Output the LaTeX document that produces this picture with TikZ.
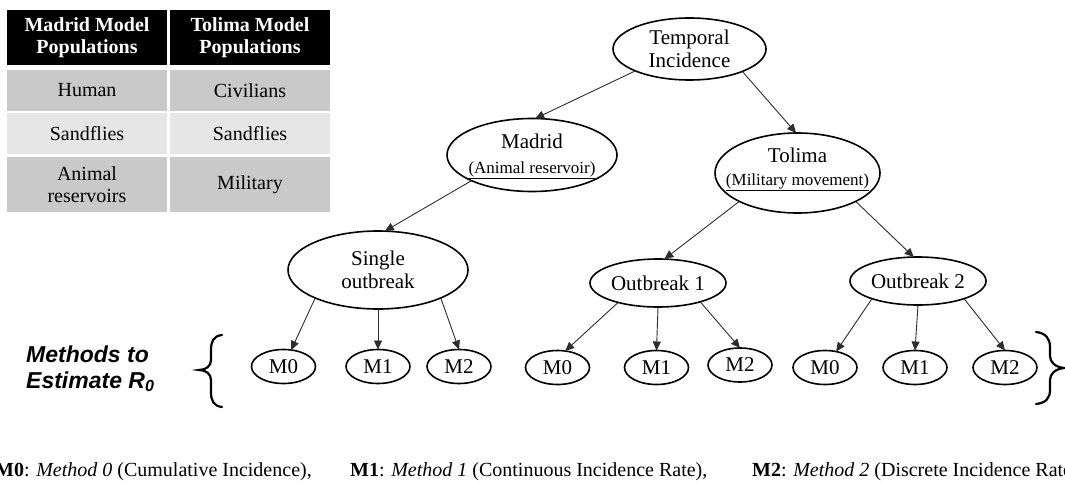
\documentclass[tikz,border=0pt]{standalone}
\usepackage{fontspec}
\setmainfont{Liberation Serif}
\setsansfont{Liberation Sans}
\usetikzlibrary{arrows.meta,shapes.geometric}

\definecolor{rowdark}{RGB}{201,201,201}
\definecolor{rowlight}{RGB}{230,230,230}
\definecolor{linkgray}{RGB}{45,45,45}

\begin{document}
\begin{tikzpicture}[x=1pt,y=-1pt,
  cell/.style={rectangle, inner sep=0pt, outer sep=0pt, anchor=north west,
    minimum width=160pt, align=center, font=\fontsize{20}{22}\selectfont},
  head/.style={cell, fill=black, text=white, minimum height=55pt,
    font=\bfseries\fontsize{20}{21.5}\selectfont},
  ell/.style={ellipse, draw=black, line width=1.6pt, inner sep=0pt, outer sep=0pt,
    align=center, font=\fontsize{21}{23}\selectfont},
  meth/.style={ell, minimum width=64pt, minimum height=34pt, font=\fontsize{21}{21}\selectfont},
  ttl/.style={inner sep=0pt, anchor=base, font=\fontsize{21}{23}\selectfont},
  sub/.style={inner sep=0pt, anchor=base, font=\fontsize{17}{19}\selectfont},
  side/.style={inner sep=0pt, anchor=base west, font=\sffamily\bfseries\itshape\fontsize{23}{26}\selectfont},
  legendtext/.style={inner sep=0pt, anchor=base west, font=\fontsize{20}{22}\selectfont},
  link/.style={draw=linkgray, line width=0.9pt, -{Triangle[length=9pt,width=8pt]}},
  brace/.style={draw=black, line width=2.2pt, line cap=round}
]
\useasboundingbox (0,0) rectangle (1065,484);
\fill[white] (0,0) rectangle (1065,484);
\clip (0,0) rectangle (1065,484);

% population table
\node[head] (h1) at (7,10) {Madrid Model\\Populations};
\node[head] (h2) at (170,10) {Tolima Model\\Populations};
\node[cell, fill=rowdark, minimum height=41pt] (r1a) at (7,70) {Human};
\node[cell, fill=rowdark, minimum height=41pt] (r1b) at (170,70) {Civilians};
\node[cell, fill=rowlight, minimum height=41pt] (r2a) at (7,113) {Sandflies};
\node[cell, fill=rowlight, minimum height=41pt] (r2b) at (170,113) {Sandflies};
\node[cell, fill=rowdark, minimum height=55pt] (r3a) at (7,157) {Animal\\reservoirs};
\node[cell, fill=rowdark, minimum height=55pt] (r3b) at (170,157) {Military};

% tree of models
\node[ell, minimum width=153pt, minimum height=62pt] (temp) at (689.5,49) {Temporal\\Incidence};
\node[ell, minimum width=170pt, minimum height=73pt] (mad) at (532,155) {};
\node[ttl] (madt) at (532,148) {Madrid};
\node[sub] (mads) at (532,173) {\underline{(Animal reservoir)}};
\node[ell, minimum width=165pt, minimum height=80pt] (tol) at (797.5,173) {};
\node[ttl] (tolt) at (797.5,162) {Tolima};
\node[sub] (tols) at (797.5,185) {\underline{(Military movement)}};
\node[ell, minimum width=180pt, minimum height=78pt] (sing) at (378,270) {Single\\outbreak};
\node[ell, minimum width=136pt, minimum height=48pt] (ob1) at (658,283) {Outbreak 1};
\node[ell, minimum width=136pt, minimum height=48pt] (ob2) at (918,281) {Outbreak 2};

% estimation methods
\node[meth] (a0) at (283.5,366.5) {M0};
\node[meth] (a1) at (378,366.5) {M1};
\node[meth] (a2) at (459,366.5) {M2};
\node[meth] (b0) at (557.5,367.5) {M0};
\node[meth] (b1) at (656.5,367.5) {M1};
\node[meth] (b2) at (740,365) {M2};
\node[meth] (c0) at (825,367.5) {M0};
\node[meth] (c1) at (915,367.5) {M1};
\node[meth] (c2) at (1005,367.5) {M2};

% connectors
\draw[link] (temp.202.5) -- (mad.85);
\draw[link] (temp.337.5) -- (tol.92);
\draw[link] (mad.203.5) -- (sing.80);
\draw[link] (tol.206) -- (ob1.75);
\draw[link] (tol.334) -- (ob2.100);
\draw[link] (sing.204) -- (a0.65);
\draw[link] (sing.south) -- (a1.north);
\draw[link] (sing.336) -- (a2.north);
\draw[link] (ob1.206) -- (b0.65);
\draw[link] (ob1.south) -- (b1.north);
\draw[link] (ob1.336) -- (b2.north);
\draw[link] (ob2.201) -- (c0.55);
\draw[link] (ob2.south) -- (c1.north);
\draw[link] (ob2.339) -- (c2.north);

% side label and braces
\node[side] (lab1) at (26,362) {Methods to};
\node[side] (lab2) at (26,388) {Estimate R\textsubscript{0}};
\draw[brace] (222,335) .. controls (213,336) and (211,342) .. (211,350)
  -- (211,360) .. controls (211,366) and (206,370) .. (199,370)
  .. controls (206,370) and (211,374) .. (211,380)
  -- (211,392) .. controls (211,400) and (213,406) .. (222,407);
\draw[brace] (1036,332) .. controls (1046,333) and (1050,339) .. (1050,347)
  -- (1050,356) .. controls (1050,362) and (1055,367) .. (1064,368)
  .. controls (1055,369) and (1050,374) .. (1050,380)
  -- (1050,390) .. controls (1050,398) and (1046,403) .. (1036,404);

% legend line
\node[legendtext] (lga) at (-5,476) {\textbf{M0}: \textit{Method 0} (Cumulative Incidence),};
\node[legendtext] (lgb) at (350,476) {\textbf{M1}: \textit{Method 1} (Continuous Incidence Rate),};
\node[legendtext] (lgc) at (752,476) {\textbf{M2}: \textit{Method 2} (Discrete Incidence Rate)};
\end{tikzpicture}
\end{document}
